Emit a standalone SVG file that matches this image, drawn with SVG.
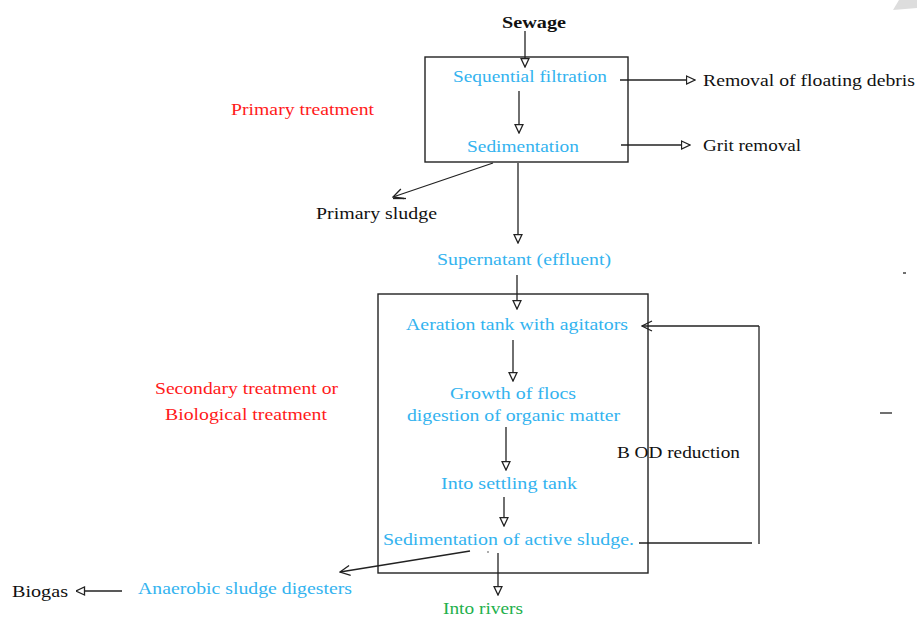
<svg xmlns="http://www.w3.org/2000/svg" width="917" height="619" viewBox="0 0 917 619">
<defs>
<style>
text{font-family:"Liberation Serif","Times New Roman",serif;font-size:16.5px}
.k{fill:#111}
.b{fill:#33b3ef}
.r{fill:#ff1a1a}
.g{fill:#22b04b}
.ln{stroke:#222;stroke-width:1.3;fill:none}
.box{stroke:#222;stroke-width:1.4;fill:none}
</style>
<marker id="tri" viewBox="0 0 10 10" refX="9.5" refY="5" markerWidth="10" markerHeight="10" markerUnits="userSpaceOnUse" orient="auto">
<path d="M1,1 L9.5,5 L1,9 Z" fill="#fff" stroke="#222" stroke-width="1.3"/>
</marker>
<marker id="vee" viewBox="0 0 12 12" refX="1" refY="6" markerWidth="12" markerHeight="12" markerUnits="userSpaceOnUse" orient="auto">
<path d="M11,1 L1,6 L11,11" fill="none" stroke="#222" stroke-width="1.3"/>
</marker>
</defs>
<rect width="917" height="619" fill="#fff"/>
<path d="M893,10 L917,8 L917,0 L899,0 Z" fill="#ddd"/>

<g id="connectors">
<line class="ln" x1="525" y1="31" x2="525" y2="67" marker-end="url(#tri)"/>
<line class="ln" x1="519" y1="91" x2="519" y2="133" marker-end="url(#tri)"/>
<line class="ln" x1="620" y1="80" x2="695" y2="80" marker-end="url(#tri)"/>
<line class="ln" x1="621" y1="145" x2="690" y2="145" marker-end="url(#tri)"/>
<line class="ln" x1="393" y1="197" x2="493" y2="163" marker-start="url(#vee)"/>
<line class="ln" x1="393" y1="198.5" x2="406" y2="198.5"/>
<line class="ln" x1="518" y1="163" x2="518" y2="243" marker-end="url(#tri)"/>
<line class="ln" x1="517" y1="275" x2="517" y2="309" marker-end="url(#tri)"/>
<line class="ln" x1="513" y1="340" x2="513" y2="381" marker-end="url(#tri)"/>
<line class="ln" x1="506" y1="427" x2="506" y2="470" marker-end="url(#tri)"/>
<line class="ln" x1="504" y1="497" x2="504" y2="526" marker-end="url(#tri)"/>
<line class="ln" x1="498" y1="553" x2="498" y2="595" marker-end="url(#tri)"/>
<line class="ln" x1="340" y1="572" x2="470" y2="551" marker-start="url(#vee)"/>
<line class="ln" x1="122" y1="591" x2="76" y2="591" marker-end="url(#tri)"/>
<line class="ln" x1="639" y1="543" x2="752" y2="543"/>
<line class="ln" x1="759" y1="326" x2="759" y2="544"/>
<line class="ln" x1="642" y1="326" x2="759" y2="326" marker-start="url(#vee)"/>
<circle cx="488" cy="552" r="0.8" fill="#444"/>
<line class="ln" x1="903" y1="273" x2="906" y2="273"/>
<line class="ln" x1="880" y1="413" x2="892" y2="413"/>
</g>

<g id="sewage"><text class="k" x="502" y="28" font-weight="bold" textLength="64" lengthAdjust="spacingAndGlyphs">Sewage</text></g>

<g id="primary-box"><rect class="box" x="425" y="57" width="203" height="105"/></g>
<g id="sequential-filtration"><text class="b" x="453" y="82" textLength="154" lengthAdjust="spacingAndGlyphs">Sequential filtration</text></g>
<g id="sedimentation"><text class="b" x="467" y="152" textLength="112" lengthAdjust="spacingAndGlyphs">Sedimentation</text></g>
<g id="removal-debris"><text class="k" x="703" y="86" textLength="212" lengthAdjust="spacingAndGlyphs">Removal of floating debris</text></g>
<g id="grit-removal"><text class="k" x="703" y="151" textLength="98" lengthAdjust="spacingAndGlyphs">Grit removal</text></g>
<g id="primary-treatment"><text class="r" x="231" y="115" textLength="143" lengthAdjust="spacingAndGlyphs">Primary treatment</text></g>
<g id="primary-sludge"><text class="k" x="316" y="219" textLength="121" lengthAdjust="spacingAndGlyphs">Primary sludge</text></g>
<g id="supernatant"><text class="b" x="437" y="265" textLength="174" lengthAdjust="spacingAndGlyphs">Supernatant (effluent)</text></g>

<g id="secondary-box"><rect class="box" x="378" y="294" width="270" height="279"/></g>
<g id="aeration-tank"><text class="b" x="406" y="330" textLength="222" lengthAdjust="spacingAndGlyphs">Aeration tank with agitators</text></g>
<g id="growth-flocs">
<text class="b" x="450" y="399" textLength="126" lengthAdjust="spacingAndGlyphs">Growth of flocs</text>
<text class="b" x="407" y="421" textLength="213" lengthAdjust="spacingAndGlyphs">digestion of organic matter</text>
</g>
<g id="settling-tank"><text class="b" x="441" y="489" textLength="136" lengthAdjust="spacingAndGlyphs">Into settling tank</text></g>
<g id="active-sludge"><text class="b" x="383" y="545" textLength="251" lengthAdjust="spacingAndGlyphs">Sedimentation of active sludge.</text></g>
<g id="into-rivers"><text class="g" x="443" y="614" textLength="80" lengthAdjust="spacingAndGlyphs">Into rivers</text></g>
<g id="anaerobic"><text class="b" x="138" y="594" textLength="214" lengthAdjust="spacingAndGlyphs">Anaerobic sludge digesters</text></g>
<g id="biogas"><text class="k" x="12" y="597" textLength="56" lengthAdjust="spacingAndGlyphs">Biogas</text></g>
<g id="bod-reduction"><text class="k" x="617" y="458" textLength="123" lengthAdjust="spacingAndGlyphs">B<tspan dx="4">OD reduction</tspan></text></g>
<g id="secondary-treatment">
<text class="r" x="155" y="394" textLength="183" lengthAdjust="spacingAndGlyphs">Secondary treatment or</text>
<text class="r" x="165" y="420" textLength="162" lengthAdjust="spacingAndGlyphs">Biological treatment</text>
</g>
</svg>
